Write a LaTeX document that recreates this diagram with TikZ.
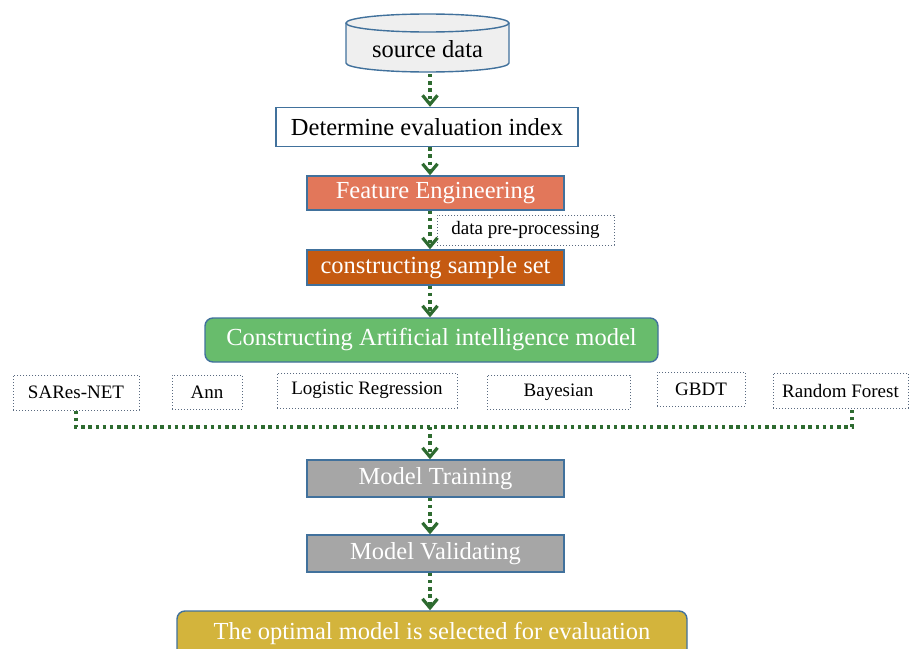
\documentclass[tikz,border=0pt]{standalone}
\usepackage{fontspec}
\setmainfont{Liberation Serif}
\usetikzlibrary{arrows.meta}

\definecolor{edgeblue}{HTML}{41719C}
\definecolor{flowgreen}{HTML}{2E6B30}
\definecolor{fefill}{HTML}{E2775A}
\definecolor{cssfill}{HTML}{C55A11}
\definecolor{aifill}{HTML}{68BC6C}
\definecolor{greyfill}{HTML}{A6A6A6}
\definecolor{goldfill}{HTML}{D3B43C}
\definecolor{cylfill}{HTML}{EFEFEF}
\definecolor{dotedge}{HTML}{5A6A80}

\tikzset{
  bigtext/.style={font=\fontsize{24.5}{28}\selectfont},
  smalltext/.style={font=\fontsize{19}{22}\selectfont},
  stagebox/.style={rectangle, draw=edgeblue, line width=1.4pt, inner sep=0pt,
    minimum width=257pt, minimum height=35pt, text=white, bigtext},
  roundbox/.style={stagebox, rounded corners=8pt},
  modelbox/.style={rectangle, draw=dotedge, line width=1pt, dotted, fill=white,
    inner sep=0pt, minimum height=34pt, text=black, smalltext},
  flow/.style={draw=flowgreen, line width=3.4pt, dash pattern=on 3.4pt off 3.8pt,
    -{Straight Barb[length=9pt,width=15pt,line width=3.2pt]}},
  joinline/.style={draw=flowgreen, line width=3.4pt, dash pattern=on 3.4pt off 3.8pt},
}

\begin{document}
\begin{tikzpicture}[x=1pt, y=-1pt]
\useasboundingbox (0,0) rectangle (910,648);
\clip (0,0) rectangle (910,648);

% database cylinder
\fill[cylfill] (346,23) -- (346,63) arc[start angle=180, end angle=360, x radius=81.5pt, y radius=9pt]
  -- (509,23) arc[start angle=0, end angle=180, x radius=81.5pt, y radius=9pt] -- cycle;
\draw[edgeblue, line width=1.4pt] (346,23) -- (346,63)
  arc[start angle=180, end angle=360, x radius=81.5pt, y radius=9pt] -- (509,23);
\draw[edgeblue, line width=1.4pt] (427.5,23) ellipse[x radius=81.5pt, y radius=9pt];
\node[bigtext] (src) at (427.5,49) {source data};
\coordinate (srcbot) at (430,74);

% main flow
\coordinate (ax) at (430,0);
\node[stagebox, fill=white, text=black, minimum width=302pt, minimum height=39pt] (det) at (427,127) {Determine evaluation index};
\node[stagebox, fill=fefill, minimum height=34pt] (fe) at (435.5,193) {Feature Engineering};
\node[modelbox, minimum width=177pt, minimum height=30pt] (pre) at (525.5,230) {data pre-processing};
\node[stagebox, fill=cssfill] (css) at (435.5,267.5) {constructing sample set};
\node[roundbox, fill=aifill, minimum width=453pt, minimum height=44pt] (ai) at (431.5,340) {Constructing Artificial intelligence model};

% candidate models
\node[modelbox, minimum width=126pt, minimum height=35pt] (sares) at (76,392.5) {SARes-NET};
\node[modelbox, minimum width=70pt] (ann) at (207,392) {Ann};
\node[modelbox, minimum width=180pt, minimum height=35pt] (lr) at (367,390.5) {Logistic Regression};
\node[modelbox, minimum width=143pt] (bay) at (558.5,392) {Bayesian};
\node[modelbox, minimum width=88pt] (gbdt) at (701,389) {GBDT};
\node[modelbox, minimum width=135pt, minimum height=35pt] (rf) at (840.5,390.5) {Random Forest};

\node[stagebox, fill=greyfill, minimum height=37pt] (mt) at (435.5,478.5) {Model Training};
\node[stagebox, fill=greyfill, minimum height=37pt] (mv) at (435.5,553.5) {Model Validating};
\node[roundbox, fill=goldfill, minimum width=510pt, minimum height=46pt] (opt) at (432,634) {};
\node[bigtext, text=white] (optlabel) at (432,633) {The optimal model is selected for evaluation};

% connectors
\draw[flow] (srcbot) -- (det.north -| ax);
\draw[flow] (det.south -| ax) -- (fe.north -| ax);
\draw[flow] (fe.south -| ax) -- (css.north -| ax);
\draw[flow] (css.south -| ax) -- (ai.north -| ax);

\coordinate (hub) at (430,427);
\coordinate (rfdrop) at ([xshift=11.5pt]rf.south);
\draw[joinline] (sares.south) -- (sares.south |- hub) -- (hub -| rfdrop) -- (rfdrop);
\draw[flow] (hub) -- (mt.north -| ax);
\draw[flow] (mt.south -| ax) -- (mv.north -| ax);
\draw[flow] (mv.south -| ax) -- (opt.north -| ax);
\end{tikzpicture}
\end{document}
